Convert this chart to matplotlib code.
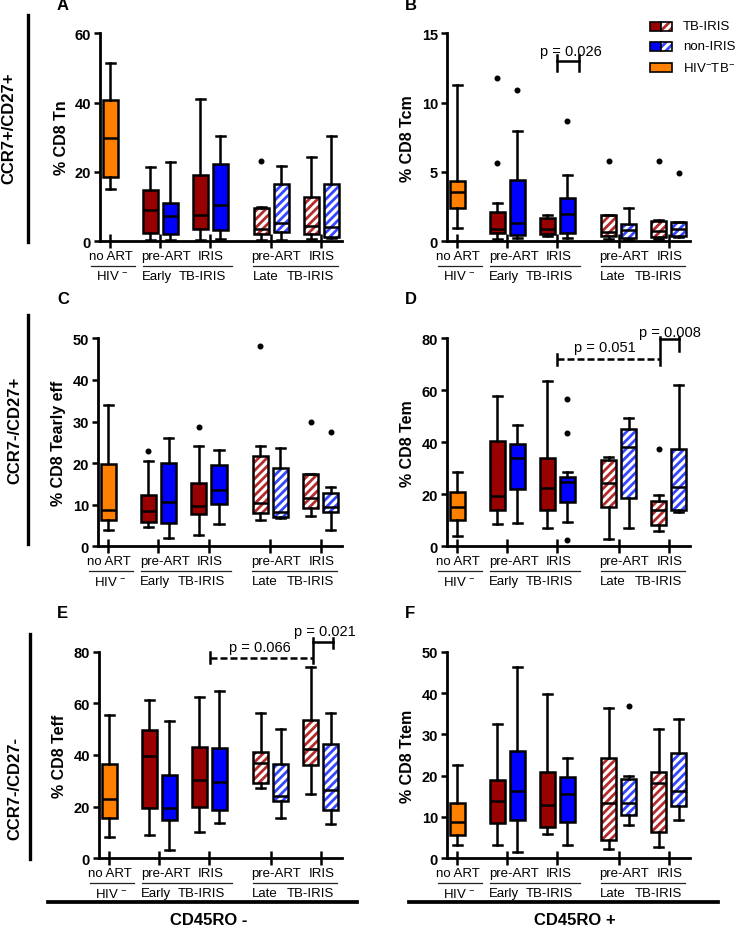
import matplotlib
matplotlib.use('Agg')
import matplotlib.pyplot as plt
import matplotlib.transforms as mtransforms
from matplotlib.patches import Rectangle, PathPatch
from matplotlib.lines import Line2D

plt.rcParams['font.family'] = ['Liberation Sans', 'DejaVu Sans']
plt.rcParams['mathtext.fontset'] = 'custom'
plt.rcParams['mathtext.rm'] = 'Liberation Sans'
plt.rcParams['mathtext.it'] = 'Liberation Sans:italic'
plt.rcParams['mathtext.bf'] = 'Liberation Sans:bold'
plt.rcParams['hatch.linewidth'] = 2.0

# ---------------- data ----------------
GROUPS = ['HIV- no ART',
          'Early pre-ART TB-IRIS', 'Early pre-ART non-IRIS',
          'Early IRIS TB-IRIS', 'Early IRIS non-IRIS',
          'Late pre-ART TB-IRIS', 'Late pre-ART non-IRIS',
          'Late IRIS TB-IRIS', 'Late IRIS non-IRIS']
ROW1_LABELS = ['no ART', 'pre-ART', 'IRIS', 'pre-ART', 'IRIS']
ROW2_LABELS = ['HIV $^{-}$', 'Early', 'TB-IRIS', 'Late', 'TB-IRIS']

# Panel A: % CD8 Tn
TN_LO = [15.0, 0.3, 0.4, 0.2, 0.7, 0.4, 0.2, 0.5, 0.9]
TN_Q1 = [18.6, 2.2, 2.0, 3.5, 3.3, 2.0, 2.5, 2.0, 1.1]
TN_MED = [29.8, 8.9, 7.3, 7.6, 10.4, 3.6, 5.1, 4.4, 3.9]
TN_Q3 = [40.7, 14.7, 11.0, 19.1, 22.3, 9.5, 16.6, 12.6, 16.6]
TN_HI = [51.4, 21.3, 22.7, 41.1, 30.2, 9.8, 21.8, 24.4, 30.4]
TN_OUT = [[], [], [], [], [], [23.0], [], [], []]

# Panel B: % CD8 Tcm
TCM_LO = [0.96, 0.14, 0.24, 0.36, 0.22, 0.14, 0.10, 0.14, 0.26]
TCM_Q1 = [2.36, 0.58, 0.43, 0.51, 0.60, 0.34, 0.24, 0.26, 0.34]
TCM_MED = [3.51, 0.87, 1.28, 0.84, 1.95, 0.62, 0.79, 0.70, 0.87]
TCM_Q3 = [4.36, 2.07, 4.43, 1.66, 3.13, 1.90, 1.25, 1.42, 1.35]
TCM_HI = [11.29, 2.77, 7.92, 1.88, 4.77, 1.90, 2.41, 1.52, 1.40]
TCM_OUT = [[], [11.79, 5.61], [10.9], [], [8.66], [5.8], [], [5.8], [4.89]]

# Panel C: % CD8 Tearly eff
TEE_LO = [3.9, 4.6, 2.1, 2.8, 5.3, 6.3, 6.7, 7.4, 4.0]
TEE_Q1 = [6.4, 5.9, 5.6, 7.8, 10.2, 7.9, 7.1, 9.3, 8.3]
TEE_MED = [8.8, 8.5, 10.7, 9.6, 13.5, 10.4, 8.2, 11.6, 9.4]
TEE_Q3 = [19.9, 12.4, 20.0, 15.3, 19.6, 21.6, 18.9, 17.3, 12.8]
TEE_HI = [34.0, 20.5, 26.0, 24.2, 23.1, 24.2, 23.6, 17.3, 14.2]
TEE_OUT = [[], [22.8], [], [28.6], [], [48.2], [], [30.0], [27.4]]

# Panel D: % CD8 Tem
TEM_LO = [3.8, 8.5, 9.1, 7.1, 9.4, 2.8, 6.9, 6.0, 13.1]
TEM_Q1 = [10.0, 14.0, 22.1, 14.0, 16.9, 15.1, 18.7, 8.3, 14.1]
TEM_MED = [15.3, 19.4, 34.0, 22.6, 24.9, 24.2, 38.2, 14.1, 22.7]
TEM_Q3 = [21.0, 40.6, 39.5, 34.1, 26.5, 33.3, 45.1, 17.6, 37.3]
TEM_HI = [28.7, 57.9, 46.7, 63.5, 28.7, 34.2, 49.5, 19.9, 62.1]
TEM_OUT = [[], [], [], [], [56.8, 43.6, 2.3], [], [], [37.4], []]

# Panel E: % CD8 Teff
TEFF_LO = [8.4, 9.2, 3.4, 10.2, 13.5, 27.4, 15.5, 24.9, 13.2]
TEFF_Q1 = [15.6, 19.4, 15.0, 19.9, 18.8, 29.0, 22.1, 36.1, 18.7]
TEFF_MED = [23.1, 39.6, 19.6, 30.2, 29.7, 36.9, 24.3, 42.3, 26.6]
TEFF_Q3 = [36.6, 49.8, 32.3, 43.0, 42.7, 41.2, 36.4, 53.7, 44.1]
TEFF_HI = [55.5, 61.2, 53.2, 62.6, 64.6, 56.3, 50.1, 74.1, 56.4]
TEFF_OUT = [[], [], [], [], [], [], [], [], []]

# Panel F: % CD8 Ttem
TTEM_LO = [3.1, 3.3, 1.5, 5.8, 3.3, 2.3, 8.1, 2.8, 9.2]
TTEM_Q1 = [5.6, 8.6, 9.2, 7.6, 8.8, 4.5, 10.4, 6.4, 12.6]
TTEM_MED = [8.9, 13.8, 16.3, 12.8, 15.5, 13.4, 13.4, 18.3, 16.2]
TTEM_Q3 = [13.3, 18.9, 25.9, 20.9, 19.7, 24.2, 19.1, 20.9, 25.6]
TTEM_HI = [22.5, 32.5, 46.2, 39.8, 24.2, 36.3, 19.8, 31.2, 33.7]
TTEM_OUT = [[], [], [], [], [], [], [36.8], [], []]

# ---------------- style / layout ----------------
W, H, DPI = 736, 929, 100
ORANGE, DRED, BLUE = '#FF8000', '#990000', '#0000FF'
HRED, HBLUE = '#B52A2A', '#3446FF'
FILLS = [ORANGE, DRED, BLUE, DRED, BLUE, None, None, None, None]
HATCHC = [None] * 5 + [HRED, HBLUE, HRED, HBLUE]
GROUP_POS = [0, 1, 2, 3.22, 4.22]
BOX_POS = [0, 0.8, 1.2, 1.8, 2.2, 3.02, 3.42, 4.02, 4.42]
ROW1_X = [0.02, 1.13, 2.02, 3.33, 4.23]
ROW2_X = [0.04, 0.93, 1.85, 3.11, 4.01]
ULINES = [(-0.38, 0.5), (0.66, 2.44), (2.86, 4.55)]
LW = 1.8

fig = plt.figure(figsize=(W / DPI, H / DPI), dpi=DPI)


def add_axes_px(left, right, top, bottom):
    return fig.add_axes([left / W, 1 - bottom / H, (right - left) / W, (bottom - top) / H])


def draw_panel(ax, lo, q1, med, q3, hi, out, ymax, ystep, ylabel, axw):
    stats = []
    for i in range(len(GROUPS)):
        stats.append(dict(label=GROUPS[i], whislo=lo[i], q1=q1[i], med=med[i],
                          q3=q3[i], whishi=hi[i], fliers=out[i]))
    bp = ax.bxp(stats, positions=BOX_POS, widths=0.3, capwidths=0.18,
                patch_artist=True, showfliers=True, manage_ticks=False,
                boxprops=dict(linewidth=LW, edgecolor='black'),
                medianprops=dict(color='black', linewidth=LW),
                whiskerprops=dict(color='black', linewidth=LW),
                capprops=dict(color='black', linewidth=LW),
                flierprops=dict(marker='o', markersize=3.3, markerfacecolor='black',
                                markeredgecolor='black'))
    for i, box in enumerate(bp['boxes']):
        if FILLS[i] is not None:
            box.set_facecolor(FILLS[i])
        else:
            box.set_facecolor('none')
            hp = PathPatch(box.get_path(), transform=ax.transData, facecolor='white',
                           edgecolor=HATCHC[i], hatch='////', linewidth=0,
                           zorder=box.get_zorder() - 0.1)
            ax.add_patch(hp)
    for art in bp['whiskers'] + bp['caps'] + bp['medians'] + bp['fliers']:
        art.set_clip_on(False)
    for box in bp['boxes']:
        box.set_clip_on(False)

    ax.set_xlim(-0.2, 4.64)
    ax.set_ylim(0, ymax)
    ax.set_yticks(list(range(0, int(ymax) + 1, ystep)))
    ax.set_xticks(GROUP_POS)
    ax.set_xticklabels([])
    for s in ['top', 'right']:
        ax.spines[s].set_visible(False)
    for s in ['left', 'bottom']:
        ax.spines[s].set_linewidth(2.0)
    ax.tick_params(axis='x', direction='inout', length=10, width=LW)
    ax.tick_params(axis='y', direction='out', length=4.5, width=LW, labelsize=10.5, pad=2)
    for t in ax.get_yticklabels():
        t.set_fontweight('bold')
    ax.set_ylabel(ylabel, fontsize=11.5, fontweight='bold')
    ax.yaxis.label.set_verticalalignment('center')
    ax.yaxis.set_label_coords(-39.0 / axw, 0.5)

    base = ax.get_xaxis_transform()

    def off(dy):
        return mtransforms.offset_copy(base, fig=fig, x=0, y=-dy, units='dots')
    for lab, x in zip(ROW1_LABELS, ROW1_X):
        ax.text(x, 0, lab, transform=off(15), ha='center', va='center', fontsize=9.5,
                clip_on=False)
    for lab, x in zip(ROW2_LABELS, ROW2_X):
        ax.text(x, 0, lab, transform=off(35), ha='center', va='center', fontsize=9.5,
                clip_on=False)
    for x0, x1 in ULINES:
        ax.add_line(Line2D([x0, x1], [0, 0], transform=off(24.5), color='#222222',
                           linewidth=0.9, clip_on=False))


def bracket(ax, x0, x1, y, dashed):
    ls = (0, (2.8, 1.2)) if dashed else '-'
    ax.plot([x0, x1], [y, y], linestyle=ls, color='black', linewidth=LW, clip_on=False)


def vcap(ax, x, y0, y1):
    ax.plot([x, x], [y0, y1], color='black', linewidth=LW, clip_on=False)


def ptext(ax, x, y, s):
    ax.text(x, y, s, ha='center', va='baseline', fontsize=10.5, clip_on=False)


# Panel A
axA = add_axes_px(100, 342, 34.3, 242)
draw_panel(axA, TN_LO, TN_Q1, TN_MED, TN_Q3, TN_HI, TN_OUT, 60, 20, '% CD8 Tn', 242)
# Panel B
axB = add_axes_px(447, 690, 34.3, 242)
draw_panel(axB, TCM_LO, TCM_Q1, TCM_MED, TCM_Q3, TCM_HI, TCM_OUT, 15, 5, '% CD8 Tcm', 243)
bracket(axB, 2.0, 2.42, 12.97, False)
vcap(axB, 2.0, 12.3, 13.4)
vcap(axB, 2.42, 12.3, 13.4)
ptext(axB, 2.27, 13.45, 'p = 0.026')
# Panel C
axC = add_axes_px(98, 342, 339.3, 547.3)
draw_panel(axC, TEE_LO, TEE_Q1, TEE_MED, TEE_Q3, TEE_HI, TEE_OUT, 50, 10,
           '% CD8 Tearly eff', 244)
# Panel D
axD = add_axes_px(447, 690, 339.3, 547.3)
draw_panel(axD, TEM_LO, TEM_Q1, TEM_MED, TEM_Q3, TEM_HI, TEM_OUT, 80, 20, '% CD8 Tem', 243)
bracket(axD, 2.0, 4.04, 72.1, True)
vcap(axD, 2.0, 69.7, 74.0)
vcap(axD, 4.04, 69.7, 80.4)
bracket(axD, 4.04, 4.43, 79.7, False)
vcap(axD, 4.43, 75.3, 80.4)
ptext(axD, 2.94, 75.3, 'p = 0.051')
ptext(axD, 4.24, 80.9, 'p = 0.008')
# Panel E
axE = add_axes_px(99, 342, 652.7, 859.3)
draw_panel(axE, TEFF_LO, TEFF_Q1, TEFF_MED, TEFF_Q3, TEFF_HI, TEFF_OUT, 80, 20,
           '% CD8 Teff', 243)
bracket(axE, 2.02, 4.06, 77.5, True)
vcap(axE, 2.02, 75.5, 80.0)
vcap(axE, 4.06, 75.5, 85.3)
bracket(axE, 4.06, 4.46, 83.7, False)
vcap(axE, 4.46, 81.4, 85.3)
ptext(axE, 3.0, 80.4, 'p = 0.066')
ptext(axE, 4.29, 86.3, 'p = 0.021')
# Panel F
axF = add_axes_px(447, 690, 652.7, 859.3)
draw_panel(axF, TTEM_LO, TTEM_Q1, TTEM_MED, TTEM_Q3, TTEM_HI, TTEM_OUT, 50, 10,
           '% CD8 Ttem', 243)


# ---------------- figure-level annotations ----------------
def fx(x):
    return x / W


def fy(y):
    return 1 - y / H


for letter, x, y in [('A', 57, 6), ('B', 405, 6), ('C', 57, 300), ('D', 405, 300),
                     ('E', 57, 613), ('F', 405, 613)]:
    fig.text(fx(x), fy(y), letter, ha='left', va='center', fontsize=12, fontweight='bold')

for lab, x, y in [('CCR7+/CD27+', 9, 128), ('CCR7-/CD27+', 15, 430), ('CCR7-/CD27-', 15, 789)]:
    fig.text(fx(x), fy(y), lab, rotation=90, ha='center', va='center', fontsize=12,
             fontweight='bold')

for x, y0, y1 in [(28, 16, 243), (28, 316, 545), (30, 635, 860)]:
    fig.add_artist(Line2D([fx(x), fx(x)], [fy(y0), fy(y1)], transform=fig.transFigure,
                          color='black', linewidth=2.4))

for x0, x1, y in [(48, 357, 903), (409, 718, 903)]:
    fig.add_artist(Line2D([fx(x0), fx(x1)], [fy(y), fy(y)], transform=fig.transFigure,
                          color='black', linewidth=2.7))
fig.text(fx(209), fy(921), 'CD45RO -', ha='center', va='center', fontsize=12, fontweight='bold')
fig.text(fx(575), fy(921), 'CD45RO +', ha='center', va='center', fontsize=12, fontweight='bold')


# legend
def frect(x, ytop, w, h, **kw):
    r = Rectangle((fx(x), fy(ytop + h)), w / W, h / H, transform=fig.transFigure, **kw)
    fig.add_artist(r)


LEG = [('TB-IRIS', DRED, HRED, 27), ('non-IRIS', BLUE, HBLUE, 47), ('HIV$^{-}$TB$^{-}$', ORANGE, None, 68)]
for lab, solid, hc, yc in LEG:
    top = yc - 4.5
    if hc is None:
        frect(650, top, 22, 9, facecolor=solid, edgecolor='black', linewidth=1.2)
    else:
        frect(650, top, 11, 9, facecolor=solid, edgecolor='black', linewidth=1.2)
        frect(661, top, 11, 9, facecolor='white', edgecolor=hc, hatch='////', linewidth=0)
        frect(661, top, 11, 9, facecolor='none', edgecolor='black', linewidth=1.2)
    fig.text(fx(683), fy(yc), lab, ha='left', va='center', fontsize=9.5)

fig.savefig('out.png', dpi=DPI)
